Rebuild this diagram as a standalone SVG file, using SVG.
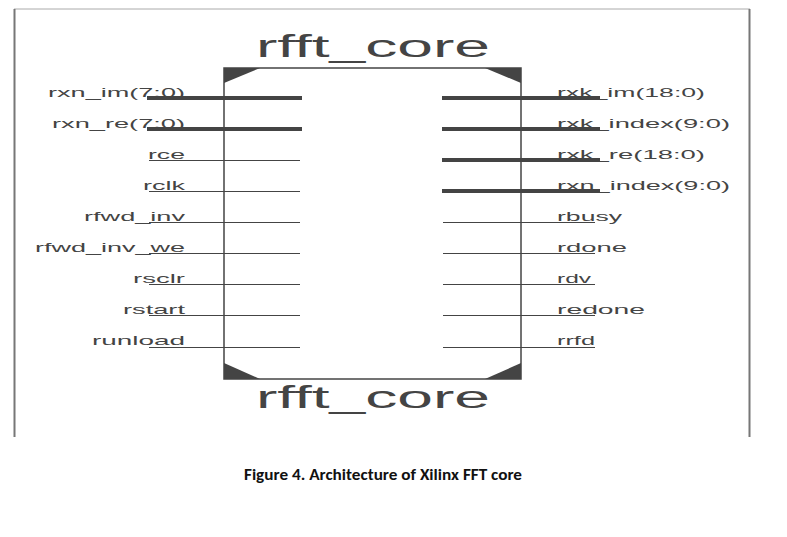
<svg xmlns="http://www.w3.org/2000/svg" width="787" height="537" viewBox="0 0 787 537">
<style>
.lbl{font-family:"Liberation Sans",Arial,sans-serif;font-size:13px;fill:#444}
.l{text-anchor:end}
.title{font-family:"Liberation Sans",Arial,sans-serif;font-size:31px;fill:#444;text-anchor:middle}
.bus{stroke:#444;stroke-width:4}
.wire{stroke:#444;stroke-width:1}
.tri{fill:#444}
</style>
<rect width="787" height="537" fill="#fff"/>
<g id="frame" fill="none">
<line x1="14" y1="9" x2="750" y2="9" stroke="#aaa" stroke-width="1"/>
<line x1="14.5" y1="9" x2="14.5" y2="437" stroke="#777" stroke-width="2"/>
<line x1="749.5" y1="9" x2="749.5" y2="437" stroke="#777" stroke-width="2"/>
</g>
<g id="core">
<rect x="224" y="68" width="297" height="311" fill="none" stroke="#444" stroke-width="1.5"/>
<polygon class="tri" points="224,68 260,68 224,83"/>
<polygon class="tri" points="521,68 485,68 521,83"/>
<polygon class="tri" points="224,379 224,363 260,379"/>
<polygon class="tri" points="521,379 521,363 485,379"/>
<text class="title" x="373" y="57" textLength="234" lengthAdjust="spacingAndGlyphs">rfft_core</text>
<text class="title" x="373" y="408" textLength="234" lengthAdjust="spacingAndGlyphs">rfft_core</text>
</g>
<g id="connectors">
<line class="bus" x1="147" y1="98" x2="302" y2="98"/>
<line class="bus" x1="147" y1="129" x2="302" y2="129"/>
<line class="wire" x1="149" y1="160.5" x2="300" y2="160.5"/>
<line class="wire" x1="149" y1="191.5" x2="300" y2="191.5"/>
<line class="wire" x1="149" y1="222.5" x2="300" y2="222.5"/>
<line class="wire" x1="149" y1="253.5" x2="300" y2="253.5"/>
<line class="wire" x1="149" y1="284.5" x2="300" y2="284.5"/>
<line class="wire" x1="149" y1="315.5" x2="300" y2="315.5"/>
<line class="wire" x1="149" y1="347.5" x2="300" y2="347.5"/>
<line class="bus" x1="442" y1="98" x2="600" y2="98"/>
<line class="bus" x1="442" y1="129" x2="600" y2="129"/>
<line class="bus" x1="442" y1="160" x2="600" y2="160"/>
<line class="bus" x1="442" y1="191" x2="600" y2="191"/>
<line class="wire" x1="443" y1="222.5" x2="595" y2="222.5"/>
<line class="wire" x1="443" y1="253.5" x2="595" y2="253.5"/>
<line class="wire" x1="443" y1="284.5" x2="595" y2="284.5"/>
<line class="wire" x1="443" y1="315.5" x2="595" y2="315.5"/>
<line class="wire" x1="443" y1="347.5" x2="595" y2="347.5"/>
</g>
<g id="left-labels" lengthAdjust="spacingAndGlyphs">
<text class="lbl l" x="185" y="97" textLength="137" lengthAdjust="spacingAndGlyphs">rxn_im(7:0)</text>
<text class="lbl l" x="185" y="128" textLength="133" lengthAdjust="spacingAndGlyphs">rxn_re(7:0)</text>
<text class="lbl l" x="185" y="159" textLength="37" lengthAdjust="spacingAndGlyphs">rce</text>
<text class="lbl l" x="185" y="190" textLength="42" lengthAdjust="spacingAndGlyphs">rclk</text>
<text class="lbl l" x="185" y="221" textLength="101" lengthAdjust="spacingAndGlyphs">rfwd_inv</text>
<text class="lbl l" x="185" y="252" textLength="150" lengthAdjust="spacingAndGlyphs">rfwd_inv_we</text>
<text class="lbl l" x="185" y="283" textLength="52" lengthAdjust="spacingAndGlyphs">rsclr</text>
<text class="lbl l" x="185" y="314" textLength="62" lengthAdjust="spacingAndGlyphs">rstart</text>
<text class="lbl l" x="185" y="345" textLength="93" lengthAdjust="spacingAndGlyphs">runload</text>
</g>
<g id="right-labels">
<text class="lbl" x="557" y="97" textLength="148" lengthAdjust="spacingAndGlyphs">rxk_im(18:0)</text>
<text class="lbl" x="557" y="128" textLength="173" lengthAdjust="spacingAndGlyphs">rxk_index(9:0)</text>
<text class="lbl" x="557" y="159" textLength="148" lengthAdjust="spacingAndGlyphs">rxk_re(18:0)</text>
<text class="lbl" x="557" y="190" textLength="173" lengthAdjust="spacingAndGlyphs">rxn_index(9:0)</text>
<text class="lbl" x="557" y="221" textLength="65" lengthAdjust="spacingAndGlyphs">rbusy</text>
<text class="lbl" x="557" y="252" textLength="70" lengthAdjust="spacingAndGlyphs">rdone</text>
<text class="lbl" x="557" y="283" textLength="34" lengthAdjust="spacingAndGlyphs">rdv</text>
<text class="lbl" x="557" y="314" textLength="88" lengthAdjust="spacingAndGlyphs">redone</text>
<text class="lbl" x="557" y="345" textLength="38" lengthAdjust="spacingAndGlyphs">rrfd</text>
</g>
<text x="383" y="480" font-family="Carlito,'Liberation Sans',sans-serif" font-weight="bold" font-size="15" text-anchor="middle" fill="#111" textLength="278" lengthAdjust="spacingAndGlyphs">Figure 4. Architecture of Xilinx FFT core</text>
</svg>
